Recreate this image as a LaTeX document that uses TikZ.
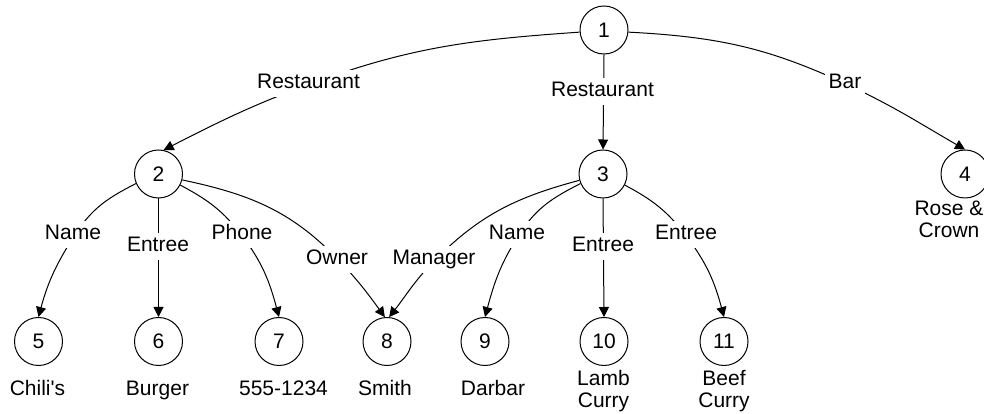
\documentclass[tikz,border=0pt]{standalone}
\usepackage{fontspec}
\newfontfamily\arialfont{Liberation Sans}
\usetikzlibrary{arrows.meta}
\begin{document}
\begin{tikzpicture}[x=1pt,y=1pt,
  every node/.style={font=\arialfont\fontsize{21}{22}\selectfont},
  vtx/.style={circle,draw,line width=1pt,minimum size=48pt,inner sep=0pt},
  elabel/.style={fill=white,inner sep=3.5pt,text height=15pt,text depth=5pt,anchor=base},
  val/.style={align=center,anchor=base,inner sep=0pt},
  edge/.style={line width=1pt},
  arr/.style={edge,-{Triangle[length=10pt,width=10pt]}}]
\useasboundingbox (0,0) rectangle (984,414);
% vertices
\node[vtx] (n1) at (604,384) {1};
\node[vtx] (n2) at (158.5,240) {2};
\node[vtx] (n3) at (603,240) {3};
\node[vtx] (n4) at (965,240) {4};
\node[vtx] (n5) at (38.5,72.5) {5};
\node[vtx] (n6) at (158.5,72.5) {6};
\node[vtx] (n7) at (279,72.5) {7};
\node[vtx] (n8) at (387,72.5) {8};
\node[vtx] (n9) at (485,72.5) {9};
\node[vtx] (n10) at (604,72.5) {10};
\node[vtx] (n11) at (724,72.5) {11};
% label pass-through points
\coordinate (cA) at (314,331.5);
\coordinate (cBar) at (846,330);
\coordinate (cN1) at (76.5,181.5);
\coordinate (cPh) at (241.5,179);
\coordinate (cOw) at (337.5,155);
\coordinate (cMg) at (436,155);
\coordinate (cN2) at (520.5,181.5);
\coordinate (cE2) at (685.5,179);
% edges
\draw[arr] (n1.185) to[out=184,in=20] (cA) to[out=200,in=27] (n2.78);
\draw[arr] (n1.south) -- (n3.north);
\draw[arr] (n1.-5) to[out=-3,in=155] (cBar) to[out=-25,in=150] (n4.north);
\draw[arr] (n2.203) to[out=207,in=56.7] (cN1) to[out=236.7,in=75] (n5.north);
\draw[arr] (n2.south) -- (n6.north);
\draw[arr] (n2.-27) to[out=-28,in=127.5] (cPh) to[out=-52.5,in=105] (n7.north);
\draw[arr] (n2.-14) to[out=-12,in=134] (cOw) to[out=-46,in=126] (n8.95);
\draw[arr] (n3.195) to[out=195,in=45] (cMg) to[out=225,in=52] (n8.85);
\draw[arr] (n3.203) to[out=207,in=56.7] (cN2) to[out=236.7,in=75] (n9.north);
\draw[arr] (n3.south) -- (n10.north);
\draw[arr] (n3.-27) to[out=-28,in=127.5] (cE2) to[out=-52.5,in=105] (n11.north);
% edge labels
\node[elabel] (lRestL) at (308.5,325) {Restaurant};
\node[elabel] (lRestM) at (602.5,317.5) {Restaurant};
\node[elabel] (lBar) at (845,325) {Bar};
\node[elabel] (lName1) at (73,174) {Name};
\node[elabel] (lEntree1) at (158,162) {Entree};
\node[elabel] (lPhone) at (242,174) {Phone};
\node[elabel] (lOwner) at (337,149) {Owner};
\node[elabel] (lManager) at (434,149) {Manager};
\node[elabel] (lName2) at (517,174) {Name};
\node[elabel] (lEntree2) at (603,162) {Entree};
\node[elabel] (lEntree3) at (686,174) {Entree};
% values
\node[val] (v4) at (949,176) {Rose \&\\Crown};
\node[val] (v5) at (37.5,18) {Chili's};
\node[val] (v6) at (157.5,18) {Burger};
\node[val] (v7) at (283.5,18) {555-1234};
\node[val] (v8) at (385,18) {Smith};
\node[val] (v9) at (493,18) {Darbar};
\node[val] (v10) at (603.5,6) {Lamb\\Curry};
\node[val] (v11) at (724,6) {Beef\\Curry};
\end{tikzpicture}
\end{document}
